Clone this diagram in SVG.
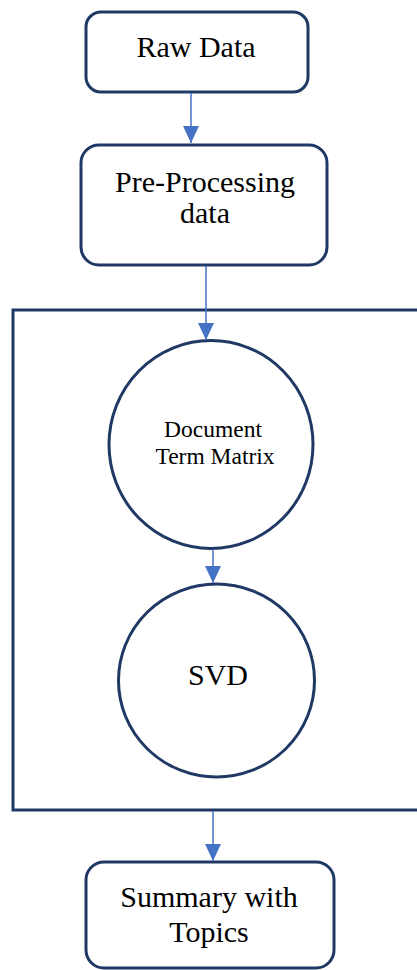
<svg xmlns="http://www.w3.org/2000/svg" width="417" height="970" viewBox="0 0 417 970">
<style>
.node{fill:#fff;stroke:#1f3864;stroke-width:3}
.frame{fill:none;stroke:#1f3864;stroke-width:3}
.t{font-family:"Liberation Serif","Times New Roman",serif;fill:#000;text-anchor:middle}
.c{stroke:#4472c4;stroke-width:1.5;fill:none}
</style>
<defs>
<marker id="ah" viewBox="0 0 17 16" refX="17" refY="8" markerWidth="17" markerHeight="16" markerUnits="userSpaceOnUse" orient="auto">
<path d="M0,0 L17,8 L0,16 Z" fill="#4472c4"/>
</marker>
</defs>
<g id="container"><rect class="frame" x="13" y="310" width="410" height="500"/></g>
<g id="raw-data">
<rect class="node" x="86" y="12" width="222" height="80" rx="15"/>
<text class="t" x="196" y="57" font-size="30">Raw Data</text>
</g>
<g id="pre-processing">
<rect class="node" x="81" y="145" width="246" height="120" rx="18"/>
<text class="t" x="205" y="192" font-size="30">Pre-Processing</text>
<text class="t" x="205" y="223" font-size="30">data</text>
</g>
<g id="dtm">
<ellipse class="node" cx="211" cy="444.5" rx="102" ry="104"/>
<text class="t" x="213" y="437" font-size="23.5">Document</text>
<text class="t" x="215" y="464" font-size="23.5">Term Matrix</text>
</g>
<g id="svd">
<ellipse class="node" cx="216.5" cy="680.5" rx="98" ry="96.5"/>
<text class="t" x="218" y="685" font-size="30">SVD</text>
</g>
<g id="summary">
<rect class="node" x="86" y="862" width="248" height="106" rx="18"/>
<text class="t" x="209" y="907" font-size="30">Summary with</text>
<text class="t" x="209" y="942" font-size="30">Topics</text>
</g>
<g id="connectors">
<line class="c" x1="191" y1="93" x2="191" y2="143" marker-end="url(#ah)"/>
<line class="c" x1="206" y1="266" x2="206" y2="340" marker-end="url(#ah)"/>
<line class="c" x1="213" y1="549" x2="213" y2="583" marker-end="url(#ah)"/>
<line class="c" x1="213" y1="811" x2="213" y2="861" marker-end="url(#ah)"/>
</g>
</svg>
